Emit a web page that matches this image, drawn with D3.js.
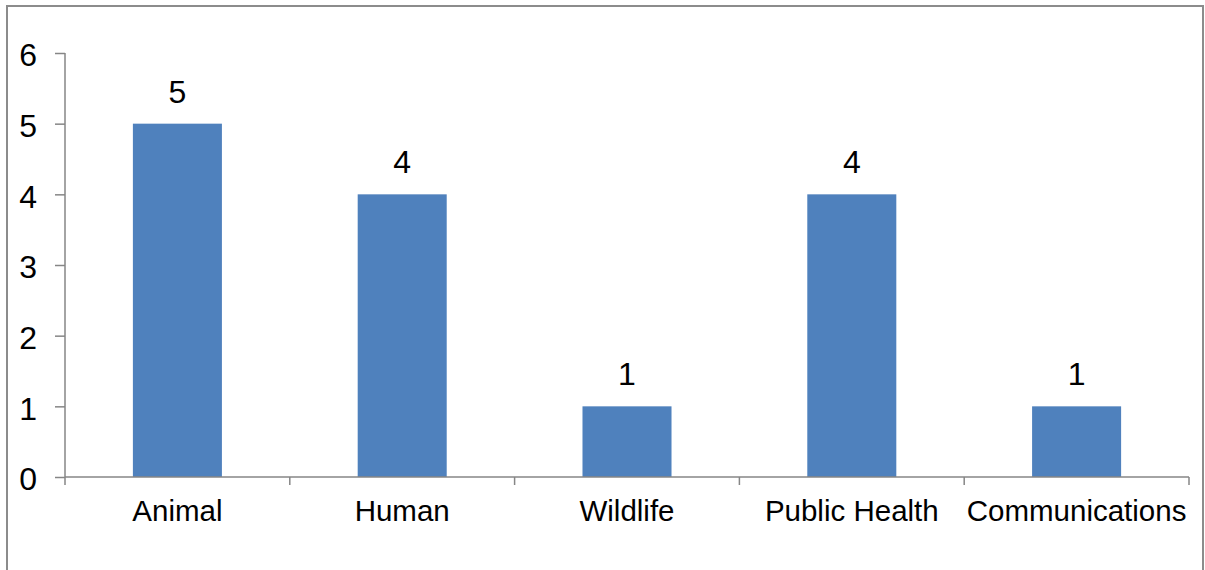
<!DOCTYPE html>
<html>
<head>
<meta charset="utf-8">
<script src="https://cdn.jsdelivr.net/npm/d3@7"></script>
<style>
  html, body { margin: 0; padding: 0; background: #fff; }
  svg { display: block; }
  text { font-family: "Liberation Sans", Arial, sans-serif; fill: #000; }
</style>
</head>
<body>
<svg id="chart" width="1205" height="570"></svg>
<script>
// Number of projects per discipline
const categories = ["Animal", "Human", "Wildlife", "Public Health", "Communications"];
const values = [5, 4, 1, 4, 1];
const yTicks = [0, 1, 2, 3, 4, 5, 6];

const svg = d3.select("#chart");
const plot = { left: 65, right: 1189, top: 53, bottom: 477 };
const axisColor = "#868686";
const fontFamily = "Liberation Sans, Arial, sans-serif";

// Outer frame of the chart area
svg.append("rect")
  .attr("x", 7).attr("y", 6)
  .attr("width", 1196).attr("height", 600)
  .attr("fill", "none")
  .attr("stroke", "#8c8c8c")
  .attr("stroke-width", 2);

const x = d3.scaleBand()
  .domain(categories)
  .range([plot.left, plot.right])
  .paddingInner(0.604)
  .paddingOuter(0.302);

const y = d3.scaleLinear()
  .domain([0, 6])
  .range([plot.bottom, plot.top]);

// Bars
svg.append("g")
  .selectAll("rect")
  .data(values)
  .join("rect")
  .attr("x", (d, i) => x(categories[i]))
  .attr("y", d => y(d))
  .attr("width", x.bandwidth())
  .attr("height", d => y(0) - y(d))
  .attr("fill", "#4F81BD");

// Value labels above bars
svg.append("g")
  .selectAll("text")
  .data(values)
  .join("text")
  .attr("x", (d, i) => x(categories[i]) + x.bandwidth() / 2)
  .attr("y", d => y(d) - 21)
  .attr("text-anchor", "middle")
  .attr("font-size", 32)
  .text(d => d);

// Y axis
const yAxis = d3.axisLeft(y)
  .tickValues(yTicks)
  .tickSize(10)
  .tickPadding(18)
  .tickFormat(d3.format("d"));

const gy = svg.append("g")
  .attr("transform", `translate(${plot.left},0)`)
  .call(yAxis);
gy.attr("font-size", 32).attr("font-family", fontFamily);
gy.select(".domain").attr("stroke", axisColor).attr("stroke-width", 1.5)
  .attr("d", `M0,${plot.top}V${plot.bottom}`);
gy.selectAll(".tick line").attr("stroke", axisColor).attr("stroke-width", 1.5);
gy.selectAll(".tick text")
  .attr("fill", "#000")
  .attr("dy", "0.4em");

// X axis: category dividers rather than centred ticks
const boundaries = d3.range(categories.length + 1)
  .map(i => plot.left + i * (plot.right - plot.left) / categories.length);

const gx = svg.append("g");
gx.append("line")
  .attr("x1", plot.left).attr("x2", plot.right)
  .attr("y1", plot.bottom).attr("y2", plot.bottom)
  .attr("stroke", axisColor).attr("stroke-width", 1.5);
gx.selectAll("line.div")
  .data(boundaries)
  .join("line")
  .attr("class", "div")
  .attr("x1", d => d).attr("x2", d => d)
  .attr("y1", plot.bottom).attr("y2", plot.bottom + 8)
  .attr("stroke", axisColor).attr("stroke-width", 1.5);
gx.selectAll("text")
  .data(categories)
  .join("text")
  .attr("x", d => x(d) + x.bandwidth() / 2)
  .attr("y", 521)
  .attr("text-anchor", "middle")
  .attr("font-size", 29.5)
  .text(d => d);
</script>
</body>
</html>
